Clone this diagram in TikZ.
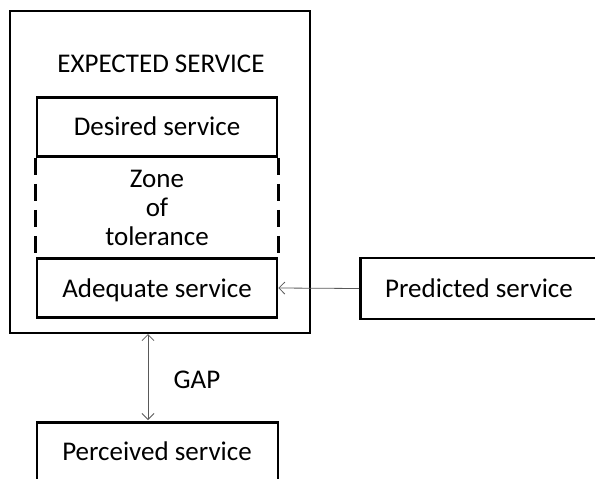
\documentclass[tikz,border=0pt]{standalone}
\usepackage{fontspec}
\setmainfont{Carlito}
\usetikzlibrary{arrows.meta}
\begin{document}
\begin{tikzpicture}[x=1pt,y=-1pt,
  txt/.style={font=\fontsize{27}{29}\selectfont, text=black, inner sep=0pt, anchor=base},
  box/.style={draw=black, line width=2.6pt},
  barb/.tip={Straight Barb[length=6pt,width=12pt,line width=0.8pt]},
  link/.style={draw=black!65, line width=0.8pt},
  zone/.style={draw=black, line width=2.6pt, dash pattern=on 17pt off 9pt}]
\useasboundingbox (0,0) rectangle (595,479);
\clip (0,0) rectangle (595,479);
% outer frame of the expected service
\draw[box] (10,11) rectangle (310,333);
\node[txt] (exp) at (161,72) {EXPECTED SERVICE};
% desired and adequate levels with the zone between them
\node[box, minimum width=240pt, minimum height=59pt, inner sep=0pt] (des) at (157,127) {};
\node[txt] at (157,135) {Desired service};
\node[box, minimum width=240pt, minimum height=59pt, inner sep=0pt] (ade) at (157,288) {};
\node[txt] at (157,297) {Adequate service};
\draw[zone] (des.south west) -- ([yshift=-1pt]ade.north west);
\draw[zone] (des.south east) -- ([yshift=-1pt]ade.north east);
\node[txt] (zone1) at (157,187) {Zone};
\node[txt] (zone2) at (157,216) {of};
\node[txt] (zone3) at (157,245) {tolerance};
% predicted service
\node[box, minimum width=260pt, minimum height=61pt, inner sep=0pt, anchor=west] (pre) at (359,288.5) {};
\node[txt] at (479,297) {Predicted service};
% perceived service
\node[box, minimum width=241pt, minimum height=80pt, inner sep=0pt, anchor=north] (per) at (157.5,421) {};
\node[txt] at (157,460) {Perceived service};
% connectors
\draw[link, -barb] (pre.west) -- (ade.east);
\coordinate (gtop) at (148,334);
\coordinate (gbot) at (148,420);
\draw[link, barb-barb] (gtop) -- (gbot);
\node[txt] (gap) at (197,388) {GAP};
\end{tikzpicture}
\end{document}
